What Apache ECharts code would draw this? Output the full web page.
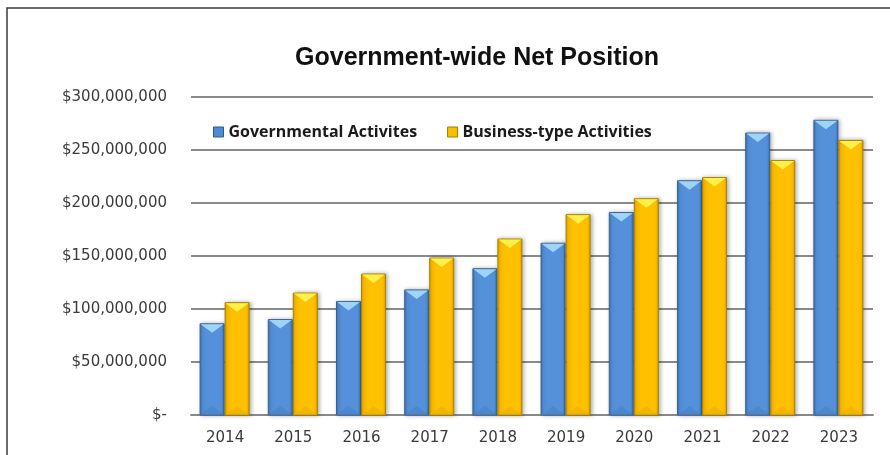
<!DOCTYPE html>
<html>
<head>
<meta charset="utf-8">
<style>
  html, body { margin: 0; padding: 0; background: #ffffff; }
  #chart { width: 890px; height: 455px; }
</style>
<script src="https://cdn.jsdelivr.net/npm/echarts@6/dist/echarts.min.js"></script>
</head>
<body>
<div id="chart"></div>
<script>
// Fiscal years shown on the category axis
const years = ['2014', '2015', '2016', '2017', '2018', '2019', '2020', '2021', '2022', '2023'];

// Net position by activity type (dollars)
const governmental = [86000000, 90000000, 107000000, 118000000, 138000000, 162000000, 191000000, 221000000, 266000000, 278000000];
const businessType = [106000000, 115000000, 133000000, 148000000, 166000000, 189000000, 204000000, 224000000, 240000000, 259000000];

// Value axis ticks
const yTicks = [0, 50000000, 100000000, 150000000, 200000000, 250000000, 300000000];

const chart = echarts.init(document.getElementById('chart'), null, { renderer: 'canvas' });

// Palette for the bevelled column look
const looks = {
  blue: { base: '#5591da', edge: '#3b6fb5', top: '#9fd4fa', bottom: '#4a84cc', line: '#3c628f' },
  gold: { base: '#ffc000', edge: '#dca400', top: '#fff04a', bottom: '#f0b400', line: '#a98300' }
};

function bevelBar(look, side) {
  return function (params, api) {
    const v = api.value(1);
    const topPt = api.coord([api.value(0), v]);
    const basePt = api.coord([api.value(0), 0]);
    const bandW = api.size([1, 0])[0];
    const bw = bandW * 0.352;
    const left = side < 0 ? topPt[0] - bw - 1 : topPt[0];
    const yTop = topPt[1];
    const yBase = basePt[1];
    const h = yBase - yTop;
    const bev = Math.min(9, h / 2);
    return {
      type: 'group',
      children: [
        {
          type: 'rect',
          shape: { x: left, y: yTop, width: bw, height: h },
          style: {
            fill: new echarts.graphic.LinearGradient(0, 0, 1, 0, [
              { offset: 0, color: look.edge },
              { offset: 0.12, color: look.base },
              { offset: 0.88, color: look.base },
              { offset: 1, color: look.edge }
            ]),
            stroke: look.line,
            lineWidth: 1,
            shadowBlur: 4,
            shadowColor: 'rgba(0,0,0,0.3)',
            shadowOffsetX: 1.5
          }
        },
        {
          type: 'polygon',
          shape: { points: [[left + 0.5, yTop + 0.5], [left + bw - 0.5, yTop + 0.5], [left + bw / 2, yTop + bev]] },
          style: { fill: look.top }
        },
        {
          type: 'polygon',
          shape: { points: [[left + 0.5, yBase - 0.5], [left + bw - 0.5, yBase - 0.5], [left + bw / 2, yBase - bev]] },
          style: { fill: look.bottom, opacity: 0.8 }
        }
      ]
    };
  };
}

const option = {
  animation: false,
  backgroundColor: '#ffffff',
  graphic: [
    {
      type: 'rect',
      shape: { x: 7, y: 8, width: 900, height: 460 },
      style: { fill: 'none', stroke: '#3a3a3a', lineWidth: 1.5 },
      silent: true
    }
  ],
  title: {
    text: 'Government-wide Net Position',
    left: 472,
    top: 41,
    textAlign: 'center',
    textStyle: {
      fontFamily: 'Liberation Sans',
      fontWeight: 'bold',
      fontSize: 25,
      color: '#111111'
    }
  },
  legend: {
    left: 208,
    top: 119,
    itemWidth: 10,
    itemHeight: 10,
    itemGap: 30,
    icon: 'rect',
    textStyle: {
      fontFamily: 'Open Sans',
      fontWeight: 'bold',
      fontSize: 16,
      color: '#1a1a1a'
    },
    data: [
      { name: 'Governmental Activites', itemStyle: { color: '#4d8ad4', borderColor: '#2f5a8f', borderWidth: 1 } },
      { name: 'Business-type Activities', itemStyle: { color: '#f4c000', borderColor: '#a07a00', borderWidth: 1 } }
    ]
  },
  grid: {
    left: 191,
    right: 17,
    top: 97,
    bottom: 40
  },
  xAxis: {
    type: 'category',
    data: years,
    axisLine: { show: true, lineStyle: { color: '#8a8a8a', width: 2 } },
    axisTick: { show: false },
    axisLabel: {
      margin: 16,
      fontFamily: 'DejaVu Sans',
      fontSize: 15,
      color: '#3a3a3a'
    }
  },
  yAxis: {
    type: 'value',
    min: yTicks[0],
    max: yTicks[yTicks.length - 1],
    interval: yTicks[1] - yTicks[0],
    axisLine: { show: false },
    axisTick: { show: false },
    splitLine: { lineStyle: { color: '#8a8a8a', width: 2 } },
    axisLabel: {
      margin: 24,
      fontFamily: 'DejaVu Sans',
      fontSize: 15,
      color: '#3a3a3a',
      formatter: function (v) {
        return v === 0 ? '$-' : '$' + v.toLocaleString('en-US');
      }
    }
  },
  series: [
    {
      name: 'Governmental Activites',
      type: 'custom',
      renderItem: bevelBar(looks.blue, -1),
      itemStyle: { color: '#4d8ad4' },
      encode: { x: 0, y: 1 },
      data: governmental.map(function (v, i) { return [i, v]; }),
      z: 3
    },
    {
      name: 'Business-type Activities',
      type: 'custom',
      renderItem: bevelBar(looks.gold, 1),
      itemStyle: { color: '#f4c000' },
      encode: { x: 0, y: 1 },
      data: businessType.map(function (v, i) { return [i, v]; }),
      z: 3
    }
  ]
};

chart.setOption(option);
</script>
</body>
</html>
